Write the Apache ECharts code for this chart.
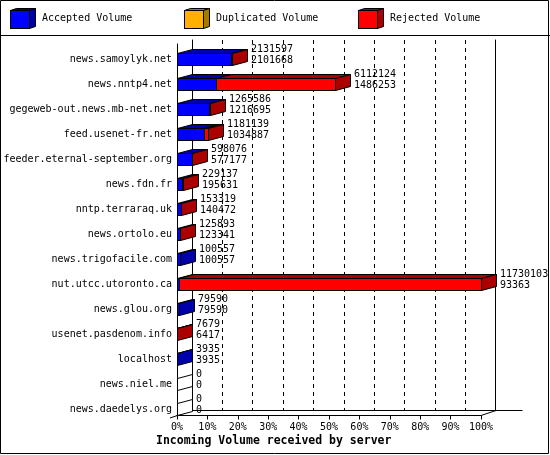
<!DOCTYPE html>
<html>
<head>
<meta charset="utf-8">
<title>Incoming Volume received by server</title>
<script src="https://cdn.jsdelivr.net/npm/echarts@6/dist/echarts.min.js"></script>
<style>
	html, body { margin: 0; padding: 0; background: #fff; }
	#chart { width: 550px; height: 455px; }
</style>
</head>
<body>
<div id="chart"></div>
<script>
// servers, top to bottom
var servers = ['news.samoylyk.net', 'news.nntp4.net', 'gegeweb-out.news.mb-net.net',
	'feed.usenet-fr.net', 'feeder.eternal-september.org', 'news.fdn.fr', 'nntp.terraraq.uk',
	'news.ortolo.eu', 'news.trigofacile.com', 'nut.utcc.utoronto.ca', 'news.glou.org',
	'usenet.pasdenom.info', 'localhost', 'news.niel.me', 'news.daedelys.org'];
// volumes (bytes) per server
var acceptedVolume = [2101668, 1486253, 1216695, 1034887, 577177, 195631, 140472,
	123341, 100557, 93363, 79590, 6417, 3935, 0, 0];
var duplicatedVolume = [0, 0, 0, 0, 0, 0, 0, 0, 0, 0, 0, 0, 0, 0, 0];
var rejectedVolume = [29929, 4625871, 48891, 146252, 20899, 33506, 12847,
	2552, 0, 11636740, 0, 1262, 0, 0, 0];
// percent ticks of the value axis
var percentTicks = [0, 10, 20, 30, 40, 50, 60, 70, 80, 90, 100];

var seriesNames = ['Accepted Volume', 'Duplicated Volume', 'Rejected Volume'];
var frontColors = ['#0000ff', '#ffb000', '#ff0000'];
var darkColors = ['#0000aa', '#aa7700', '#aa0000'];
var legendLeft = [10, 184, 358];
var FONT = '"DejaVu Sans Mono", monospace';

var totalVolume = servers.map(function(s, i){
	return acceptedVolume[i] + duplicatedVolume[i] + rejectedVolume[i];
});
var maxVolume = Math.max.apply(null, totalVolume);
var volumes = [acceptedVolume, duplicatedVolume, rejectedVolume];

// 3d box depth
var depthX = 15, depthY = 4, barHalf = 6;

function px(v){
	return Math.round(v) + 0.5;
}

// legend icon: little shaded cube
function cubeIcon(front, dark){
	var svg = '<svg xmlns="http://www.w3.org/2000/svg" width="27" height="21" viewBox="0 0 27 21">'
		+ '<polygon points="0.5,2.5 6.5,0.5 25.5,0.5 19.5,2.5" fill="' + dark + '" stroke="#000"/>'
		+ '<polygon points="19.5,2.5 25.5,0.5 25.5,18.5 19.5,20.5" fill="' + dark + '" stroke="#000"/>'
		+ '<rect x="0.5" y="2.5" width="19" height="18" fill="' + front + '" stroke="#000"/>'
		+ '</svg>';
	return 'image://data:image/svg+xml;charset=utf-8,' + encodeURIComponent(svg);
}

// draws one stacked segment of the 3d bar; last non empty segment draws the side face
function renderSegment(idx){
	return function(params, api){
		var i = params.dataIndex;
		var start = 0, k;
		for(k = 0; k < idx; k++){
			start += volumes[k][i];
		}
		var end = start + volumes[idx][i];
		var last = 0;
		for(k = 0; k < volumes.length; k++){
			if(volumes[k][i] > 0) last = k;
		}
		var a = api.coord([start, i]);
		var b = api.coord([end, i]);
		var x0 = px(a[0]), x1 = px(b[0]);
		var top = px(a[1] - barHalf), bottom = px(a[1] + barHalf);
		var children = [];
		if(end > start){
			children.push({
				type : 'polygon',
				shape : { points : [[x0, top], [x1, top], [x1 + depthX, top - depthY], [x0 + depthX, top - depthY]] },
				style : { fill : darkColors[idx], stroke : '#000', lineWidth : 1 }
			});
			children.push({
				type : 'rect',
				shape : { x : x0, y : top, width : x1 - x0, height : bottom - top },
				style : { fill : frontColors[idx], stroke : '#000', lineWidth : 1 }
			});
		}
		if(idx === last){
			children.push({
				type : 'polygon',
				shape : { points : [[x1, top], [x1 + depthX, top - depthY], [x1 + depthX, bottom - depthY], [x1, bottom]] },
				style : { fill : totalVolume[i] > 0 ? darkColors[idx] : '#fff', stroke : '#000', lineWidth : 1 }
			});
		}
		if(idx === volumes.length - 1){
			var t = api.coord([totalVolume[i], i]);
			var lx = Math.round(t[0]) + depthX + 4;
			children.push({
				type : 'text',
				style : { text : String(totalVolume[i]), x : lx, y : a[1] - 9.5, font : '10px ' + FONT,
					fill : '#000', verticalAlign : 'middle' }
			});
			children.push({
				type : 'text',
				style : { text : String(acceptedVolume[i]), x : lx, y : a[1] + 1, font : '10px ' + FONT,
					fill : '#000', verticalAlign : 'middle' }
			});
		}
		return { type : 'group', children : children };
	};
}

var myChart = echarts.init(document.getElementById('chart'), null, { renderer : 'canvas' });

var option = {
	backgroundColor : '#fff',
	animation : false,
	title : {
		text : 'Incoming Volume received by server',
		left : 156,
		top : 435,
		padding : 0,
		textStyle : { fontFamily : FONT, fontSize : 11.5, fontWeight : 'bold', color : '#000' }
	},
	// one legend per entry so the entries sit on a fixed pitch
	legend : seriesNames.map(function(name, k){
		return {
			left : legendLeft[k],
			top : 8,
			padding : 0,
			itemWidth : 27,
			itemHeight : 21,
			selectedMode : false,
			textStyle : { fontFamily : FONT, fontSize : 10, color : '#000' },
			data : [{ name : name, icon : cubeIcon(frontColors[k], darkColors[k]) }]
		};
	}),
	grid : [
		// back wall
		{ left : 192, right : 54.5, top : 40, bottom : 44.5 },
		// front frame
		{ left : 177, right : 69, top : 44, bottom : 39.5 },
		// bars
		{ left : 177, right : 69, top : 59, bottom : 46 }
	],
	xAxis : [{
		gridIndex : 0, type : 'value', min : percentTicks[0], max : percentTicks[percentTicks.length - 1], interval : 10,
		axisLine : { show : true, onZero : false, lineStyle : { color : '#000', width : 1 } },
		axisTick : { show : false }, axisLabel : { show : false },
		splitLine : { show : true, showMinLine : false, showMaxLine : false,
			lineStyle : { color : '#000', width : 1, type : [4, 4] } }
	},{
		gridIndex : 1, type : 'value', min : percentTicks[0], max : percentTicks[percentTicks.length - 1], interval : 10,
		axisLine : { show : true, onZero : false, lineStyle : { color : '#000', width : 1 } },
		axisTick : { show : true, length : 4, lineStyle : { color : '#000' } },
		axisLabel : { formatter : '{value}%', margin : 7, color : '#000', fontFamily : FONT, fontSize : 10 },
		splitLine : { show : false }
	},{
		gridIndex : 2, type : 'value', min : 0, max : maxVolume, show : false
	}],
	yAxis : [{
		gridIndex : 0, type : 'value', min : 0, max : 1, position : 'left',
		axisLine : { show : true, onZero : false, lineStyle : { color : '#000' } },
		axisTick : { show : false }, axisLabel : { show : false }, splitLine : { show : false }
	},{
		gridIndex : 0, type : 'value', min : 0, max : 1, position : 'right',
		axisLine : { show : true, onZero : false, lineStyle : { color : '#000' } },
		axisTick : { show : false }, axisLabel : { show : false }, splitLine : { show : false }
	},{
		gridIndex : 1, type : 'value', min : 0, max : 1, position : 'left',
		axisLine : { show : true, onZero : false, lineStyle : { color : '#000' } },
		axisTick : { show : false }, axisLabel : { show : false }, splitLine : { show : false }
	},{
		gridIndex : 2, type : 'category', data : servers, inverse : true, boundaryGap : false,
		axisLine : { show : false }, axisTick : { show : false }, splitLine : { show : false },
		axisLabel : { interval : 0, margin : 5, color : '#000', fontFamily : FONT, fontSize : 10 }
	}],
	series : seriesNames.map(function(name, k){
		return {
			name : name,
			type : 'custom',
			xAxisIndex : 2,
			yAxisIndex : 3,
			color : frontColors[k],
			renderItem : renderSegment(k),
			encode : { x : 0, y : 1 },
			data : volumes[k].map(function(v, i){ return [v, i]; }),
			z : 5 + k
		};
	}),
	graphic : [
		// outer frame and legend separator
		{ type : 'rect', shape : { x : 0.5, y : 0.5, width : 548, height : 453 },
			style : { fill : 'none', stroke : '#000', lineWidth : 1 }, z : 100 },
		{ type : 'line', shape : { x1 : 0, y1 : 35.5, x2 : 550, y2 : 35.5 },
			style : { stroke : '#000', lineWidth : 1 } },
		// floor edges
		{ type : 'line', shape : { x1 : 495.5, y1 : 410.5, x2 : 522.5, y2 : 410.5 },
			style : { stroke : '#000', lineWidth : 1 } },
		{ type : 'line', shape : { x1 : 481, y1 : 415.5, x2 : 496, y2 : 410.5 },
			style : { stroke : '#000', lineWidth : 1 } },
		{ type : 'line', shape : { x1 : 170, y1 : 418, x2 : 192, y2 : 410.5 },
			style : { stroke : '#000', lineWidth : 1 } }
	]
};
myChart.setOption(option);
</script>
</body>
</html>
